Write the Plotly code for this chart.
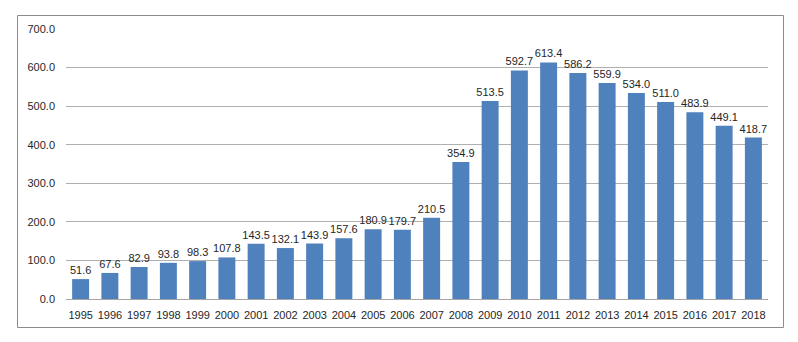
import plotly.graph_objects as go

years = [str(y) for y in range(1995, 2019)]
values = [51.6, 67.6, 82.9, 93.8, 98.3, 107.8, 143.5, 132.1, 143.9, 157.6, 180.9, 179.7,
          210.5, 354.9, 513.5, 592.7, 613.4, 586.2, 559.9, 534.0, 511.0, 483.9, 449.1, 418.7]
y_ticks = [0, 100, 200, 300, 400, 500, 600, 700]

W, H = 798, 342
ml, mr, mt, mb = 66, 30, 29, 43
pw, ph = W - ml - mr, H - mt - mb

def px_to_paper_x(px):
    return (px - ml) / pw

def px_to_paper_y(py):
    return (H - mb - py) / ph

fig = go.Figure()
fig.add_trace(go.Bar(
    x=years, y=values,
    marker=dict(color="#4f81bd", line=dict(width=0)),
    text=[f"{v:.1f}" for v in values],
    textposition="outside",
    constraintext="none",
    cliponaxis=False,
    textfont=dict(family="Liberation Sans, Arial", size=11, color="#262626"),
))

fig.update_layout(
    width=W, height=H,
    margin=dict(l=ml, r=mr, t=mt, b=mb),
    paper_bgcolor="white", plot_bgcolor="white",
    bargap=0.42,
    showlegend=False,
    uniformtext=dict(minsize=11, mode="show"),
    font=dict(family="Liberation Sans, Arial", size=11, color="#262626"),
    xaxis=dict(type="category", showgrid=False, showline=False, ticks="",
               tickfont=dict(size=11), ticklabelstandoff=8, automargin=False),
    yaxis=dict(range=[0, 700], tickvals=y_ticks, ticktext=[f"{t:.1f}" for t in y_ticks],
               showgrid=True, gridcolor="#b0b0b0", gridwidth=1,
               zeroline=True, zerolinecolor="#a6a6a6", zerolinewidth=1,
               showline=False, ticks="", ticklabelstandoff=10, automargin=False),
    shapes=[dict(type="rect", xref="paper", yref="paper",
                 x0=px_to_paper_x(17.5), x1=px_to_paper_x(783.5),
                 y0=px_to_paper_y(327.5), y1=px_to_paper_y(15.5),
                 line=dict(color="#8c8c8c", width=1), fillcolor="rgba(0,0,0,0)", layer="below")],
)

fig.write_html("out.html")
